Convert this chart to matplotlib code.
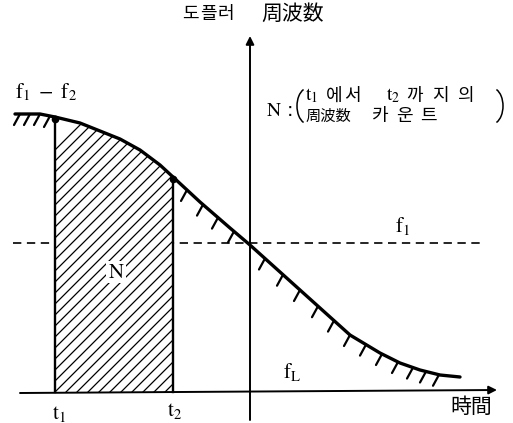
import matplotlib.pyplot as plt
import numpy as np
from matplotlib.patches import Polygon, Arc

plt.rcParams['mathtext.fontset'] = 'stix'
plt.rcParams['lines.scale_dashes'] = False

# doppler frequency curve (x = time, y = freq, y grows downward)
curve_t = [15, 40, 55, 80, 100, 120, 140, 160, 173, 200, 230, 250, 280, 300, 320, 350, 380, 400, 420, 440, 460]
curve_f = [114, 114, 117, 123, 131, 139, 150, 165, 177, 202, 228, 245, 272, 290, 308, 335, 353, 363, 370, 375, 377]

t1 = 55
t2 = 173
t_axis = 250      # where the frequency axis stands
f1_level = 243    # dashed f1 line
base = 392        # time axis

# little hatch strokes under the curve
flat_ticks = [20, 30, 40, 50]
slope_ticks = [187, 203, 218, 234, 265, 283, 300, 318, 334, 350, 366, 382, 398, 413, 426, 439]

KR = 'Noto Sans CJK KR'

fig = plt.figure(figsize=(5.13, 4.23), dpi=100)
ax = fig.add_axes([0, 0, 1, 1])
ax.set_xlim(0, 513)
ax.set_ylim(423, 0)
ax.axis('off')

# dashed f1 level
ax.plot([13, 480], [f1_level, f1_level], color='k', lw=1.2, dashes=(6, 4), zorder=1)

# counted region N between t1 and t2
ct = np.array(curve_t)
cf = np.array(curve_f)
inside = (ct > t1) & (ct < t2)
top_t = [t1] + list(ct[inside]) + [t2]
top_f = [np.interp(t1, ct, cf)] + list(cf[inside]) + [np.interp(t2, ct, cf)]
verts = list(zip(top_t, top_f)) + [(t2, base), (t1, base)]
region = Polygon(verts, closed=True, facecolor='white', edgecolor='none', zorder=2)
ax.add_patch(region)
for c in np.arange(t1 + 150, t2 + base + 20, 11):
    ln, = ax.plot([0, 513], [c, c - 513], color='k', lw=0.9, zorder=3)
    ln.set_clip_path(region)

# curve
ax.plot(curve_t, curve_f, color='k', lw=2.4, solid_capstyle='round', zorder=5)

# t1, t2 verticals and dots
for t in (t1, t2):
    y0 = np.interp(t, ct, cf)
    ax.plot([t, t], [y0, base], color='k', lw=1.7, zorder=4)
    ax.plot(t, y0 + 2, 'ko', ms=4.5, zorder=6)

# hatch strokes
for t in flat_ticks + slope_ticks:
    y0 = np.interp(t, ct, cf)
    ax.plot([t, t - 6], [y0, y0 + 11], color='k', lw=1.6, solid_capstyle='round', zorder=5)

# axes with arrows
arr = dict(arrowstyle='-|>', color='k', lw=1.4, mutation_scale=12, shrinkA=0, shrinkB=0)
ax.annotate('', xy=(497, base - 2), xytext=(20, base + 1), arrowprops=arr, zorder=4)
ax.annotate('', xy=(t_axis, 36), xytext=(t_axis, 420), arrowprops=arr, zorder=4)

# labels
ax.text(15, 92, r'$\mathrm{f}_1\ -\ \mathrm{f}_2$', fontsize=15, va='center', ha='left')
ax.text(395, 226, r'$\mathrm{f_1}$', fontsize=15, va='center', ha='left')
ax.text(283, 372, r'$\mathrm{f_L}$', fontsize=15, va='center', ha='left')
ax.text(59, 414, r'$\mathrm{t_1}$', fontsize=15, va='center', ha='center')
ax.text(175, 411, r'$\mathrm{t_2}$', fontsize=15, va='center', ha='center')
ax.text(116, 272, r'$\mathrm{N}$', fontsize=15, va='center', ha='center', zorder=4,
        bbox=dict(facecolor='white', edgecolor='none', pad=1))

for ch, x in zip('도플러', (190, 208, 226)):
    ax.text(x, 14, ch, family=KR, fontsize=13, va='center', ha='center')
ax.text(261, 14, '周波数', family=KR, fontsize=15, va='center', ha='left')
ax.text(471, 407, '時間', family=KR, fontsize=15, va='center', ha='center')

# N : ( t1에서 t2까지의 / 周波数 카운트 )
ax.text(266, 110, r'$\mathrm{N}$ :', fontsize=14, va='center', ha='left')
ax.add_patch(Arc((308, 106), 22, 36, theta1=105, theta2=255, color='k', lw=1.1))
ax.add_patch(Arc((492, 106), 22, 36, theta1=-75, theta2=75, color='k', lw=1.1))

ax.text(305, 95, r'$\mathrm{t_1}$', fontsize=14, va='center', ha='left')
for ch, x in zip('에서', (326, 344)):
    ax.text(x, 96, ch, family=KR, fontsize=13, va='center', ha='left')
ax.text(386, 95, r'$\mathrm{t_2}$', fontsize=14, va='center', ha='left')
for ch, x in zip('까지의', (406, 432, 457)):
    ax.text(x, 96, ch, family=KR, fontsize=13, va='center', ha='left')
ax.text(306, 116, '周波数', family=KR, fontsize=11, va='center', ha='left')
for ch, x in zip('카운트', (372, 396, 420)):
    ax.text(x, 116, ch, family=KR, fontsize=13, va='center', ha='left')

fig.savefig('out.png', dpi=100)
